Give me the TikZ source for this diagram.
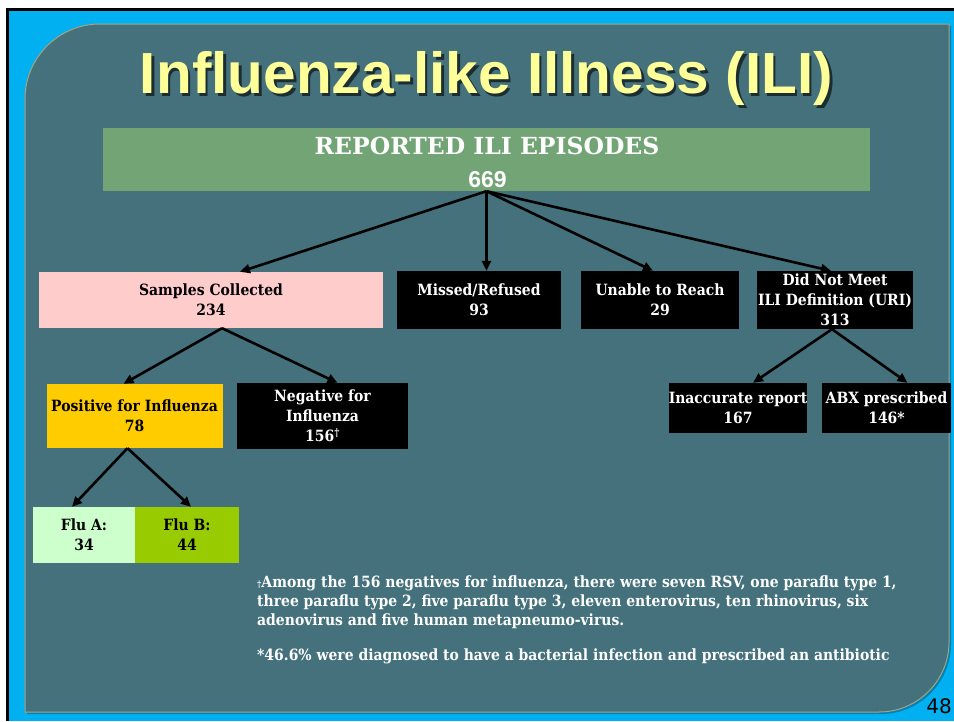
\documentclass[tikz,border=0pt]{standalone}
\usepackage{fontspec}
\usetikzlibrary{arrows.meta}
\newfontfamily\boxfont[FakeStretch=0.9]{DejaVu Serif}
\newfontfamily\footfont[FakeStretch=0.9]{DejaVu Serif}
\newfontfamily\headfont{DejaVu Serif}
\newfontfamily\titlefont{Liberation Sans}
\newfontfamily\pagefont{DejaVu Sans}
\definecolor{bgblue}{HTML}{00B0F0}
\definecolor{panelc}{HTML}{44717B}
\definecolor{hdrc}{HTML}{72A476}
\definecolor{pinkc}{HTML}{FFCCCC}
\definecolor{yelc}{HTML}{FFCC00}
\definecolor{fluAc}{HTML}{CCFFCC}
\definecolor{fluBc}{HTML}{99CC00}
\definecolor{titley}{HTML}{FFFF99}
\tikzset{
  boxbase/.style={inner sep=0pt, align=center, font=\boxfont\bfseries\fontsize{15.5}{20}\selectfont},
  darkbox/.style={boxbase, fill=black, text=white},
  arr/.style={-{Triangle[length=10pt,width=9pt]}, line width=2.6pt, black},
  foot/.style={anchor=base west, inner sep=0pt, text=white, font=\footfont\bfseries\fontsize{15.5}{19}\selectfont},
}
\begin{document}
\begin{tikzpicture}[x=1pt,y=-1pt]
\useasboundingbox (0,0) rectangle (954,721);
\fill[white] (0,0) rectangle (954,721);
\fill[black] (6,8) rectangle (954,721);
\fill[bgblue] (9,11) rectangle (954,721);
% panel shadow and panel
\fill[black,opacity=0.25] (27,101) .. controls (27,59.6) and (60.6,26) .. (102,26) -- (951,26) -- (951,644) .. controls (951,682.7) and (919.7,714) .. (881,714) -- (27,714) -- cycle;
\filldraw[fill=panelc, draw=gray!80!yellow, line width=1pt] (25,99) .. controls (25,57.6) and (58.6,24) .. (100,24) -- (949,24) -- (949,642) .. controls (949,680.7) and (917.7,712) .. (879,712) -- (25,712) -- cycle;
% title with shadow
\node[anchor=base, inner sep=0pt, text=black, opacity=0.6] (titleshadow) at (489,96) {\resizebox{693pt}{\height}{\titlefont\bfseries\fontsize{58}{60}\selectfont Influenza-like Illness (ILI)}};
\node[anchor=base, inner sep=0pt, text=titley] (title) at (486.5,93.5) {\resizebox{693pt}{\height}{\titlefont\bfseries\fontsize{58}{60}\selectfont Influenza-like Illness (ILI)}};
% top box
\node[fill=hdrc, minimum width=767pt, minimum height=63pt, inner sep=0pt] (top) at (486.5,159.5) {};
\node[anchor=base, inner sep=0pt, text=white, font=\headfont\bfseries\fontsize{23.5}{25}\selectfont] (toptitle) at (487,154) {REPORTED ILI EPISODES};
\node[anchor=base, inner sep=0pt, text=white, font=\titlefont\bfseries\fontsize{23}{24}\selectfont] (topnum) at (487.5,187) {669};
% second row
\node[boxbase, fill=pinkc, text=black, minimum width=344pt, minimum height=56pt] (samples) at (211,300) {Samples Collected\\234};
\node[darkbox, minimum width=164pt, minimum height=58pt] (missed) at (479,300) {Missed/Refused\\93};
\node[darkbox, minimum width=158pt, minimum height=58pt] (unable) at (660,300) {Unable to Reach\\29};
\node[darkbox, minimum width=156pt, minimum height=58pt] (didnot) at (835,300) {Did Not Meet\\ILI Definition (URI)\\313};
% third row
\node[boxbase, fill=yelc, text=black, minimum width=176pt, minimum height=64pt] (pos) at (134.5,416) {Positive for Influenza\\78};
\node[darkbox, minimum width=171pt, minimum height=66pt] (neg) at (322.5,416) {Negative for\\Influenza\\156\textsuperscript{†}};
\node[darkbox, minimum width=138pt, minimum height=50pt] (inacc) at (738,408) {Inaccurate report\\167};
\node[darkbox, minimum width=129pt, minimum height=50pt] (abx) at (886.5,408) {ABX prescribed\\146*};
% flu row
\node[boxbase, fill=fluAc, text=black, minimum width=102pt, minimum height=56pt] (flua) at (84,535) {Flu A:\\34};
\node[boxbase, fill=fluBc, text=black, minimum width=104pt, minimum height=56pt] (flub) at (187,535) {Flu B:\\44};
% arrows
\draw[arr] (top.south) -- ([xshift=29pt]samples.north);
\draw[arr] (top.south) -- ([xshift=7.5pt]missed.north);
\draw[arr] (top.south) -- ([xshift=-7pt]unable.north);
\draw[arr] (top.south) -- ([xshift=-4pt]didnot.north);
\draw[arr] ([xshift=11pt]samples.south) -- ([xshift=-11pt]pos.north);
\draw[arr] ([xshift=11pt]samples.south) -- ([xshift=15pt]neg.north);
\draw[arr] ([xshift=-7pt]pos.south) -- ([xshift=-12pt]flua.north);
\draw[arr] ([xshift=-7pt]pos.south) -- ([xshift=4pt]flub.north);
\draw[arr] ([xshift=-3pt]didnot.south) -- ([xshift=15pt]inacc.north);
\draw[arr] ([xshift=-3pt]didnot.south) -- ([xshift=21pt]abx.north);
% footnotes
\node[foot] (foot1) at (257,587) {{\fontsize{9}{9}\selectfont †}Among the 156 negatives for influenza, there were seven RSV, one paraflu type 1,};
\node[foot] (foot2) at (257,606) {three paraflu type 2, five paraflu type 3, eleven enterovirus, ten rhinovirus, six};
\node[foot] (foot3) at (257,625) {adenovirus and five human metapneumo-virus.};
\node[foot] (foot4) at (257,660) {*46.6\% were diagnosed to have a bacterial infection and prescribed an antibiotic};
% page number
\node[anchor=base east, inner sep=0pt, font=\pagefont\fontsize{20}{22}\selectfont] (pagenum) at (952,713) {48};
\end{tikzpicture}
\end{document}
